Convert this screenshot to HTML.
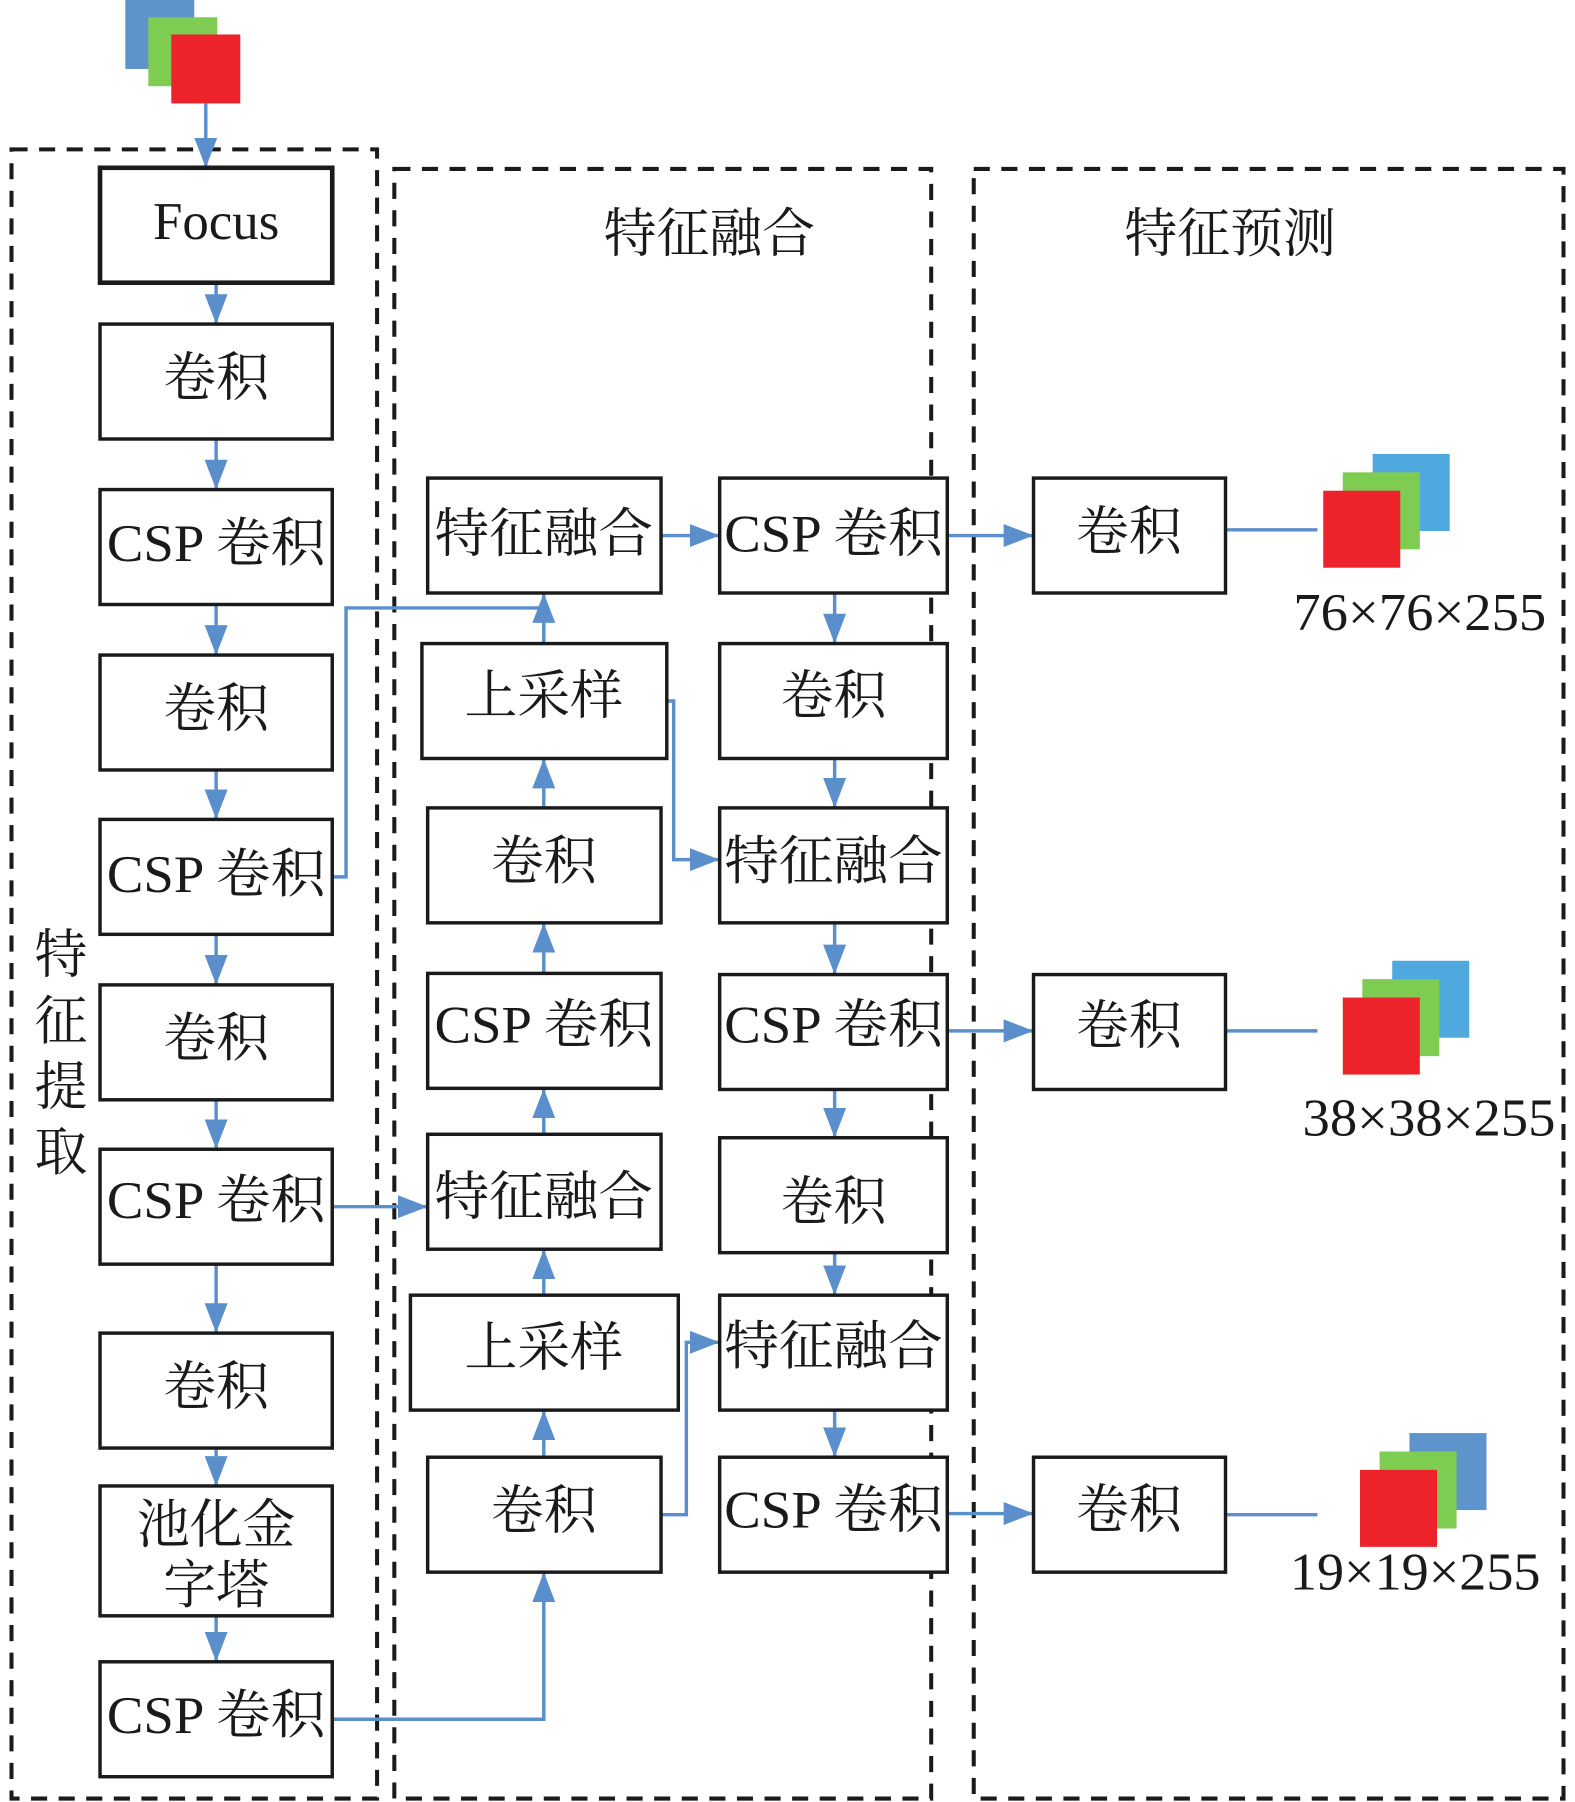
<!DOCTYPE html>
<html><head><meta charset="utf-8"><style>
html,body{margin:0;padding:0;background:#fff;}
svg{display:block;}
text{font-family:"Liberation Serif","Noto Serif CJK SC",serif;fill:#1a1a1a;}
</style></head><body>
<svg width="1575" height="1802" viewBox="0 0 1370 1568" preserveAspectRatio="none" xmlns="http://www.w3.org/2000/svg">
<defs>
<marker id="a" markerUnits="userSpaceOnUse" markerWidth="30" markerHeight="24" refX="26" refY="10" orient="auto">
<path d="M0,0 L26,10 L0,20 Z" fill="#5b8fcc"/>
</marker>
</defs>
<g fill="none" stroke="#1a1a1a" stroke-width="3.5" stroke-dasharray="14,10">
<rect x="10" y="130" width="318" height="1435"/>
<rect x="343" y="147" width="467" height="1418"/>
<rect x="847" y="147" width="513" height="1418"/>
</g>
<rect x="109" y="0" width="60" height="60" fill="#5e93cb"/>
<rect x="129" y="15" width="60" height="60" fill="#7fcc52"/>
<rect x="149" y="30" width="60" height="60" fill="#ec232a"/>
<rect x="1194" y="395" width="67" height="67" fill="#4fa9df"/>
<rect x="1168" y="411" width="67" height="67" fill="#7fcc52"/>
<rect x="1151" y="427" width="67" height="67" fill="#ec232a"/>
<rect x="1211" y="836" width="67" height="67" fill="#4fa9df"/>
<rect x="1185" y="852" width="67" height="67" fill="#7fcc52"/>
<rect x="1168" y="868" width="67" height="67" fill="#ec232a"/>
<rect x="1226" y="1247" width="67" height="67" fill="#5e93cb"/>
<rect x="1200" y="1263" width="67" height="67" fill="#7fcc52"/>
<rect x="1183" y="1279" width="67" height="67" fill="#ec232a"/>
<g fill="none" stroke="#5b8fcc" stroke-width="3">
<path d="M179,90 V146" marker-end="url(#a)"/>
<path d="M188,246 V282" marker-end="url(#a)"/>
<path d="M188,382 V426" marker-end="url(#a)"/>
<path d="M188,526 V570" marker-end="url(#a)"/>
<path d="M188,670 V713" marker-end="url(#a)"/>
<path d="M188,813 V857" marker-end="url(#a)"/>
<path d="M188,957 V1000" marker-end="url(#a)"/>
<path d="M188,1100 V1160" marker-end="url(#a)"/>
<path d="M188,1260 V1293" marker-end="url(#a)"/>
<path d="M188,1406 V1446" marker-end="url(#a)"/>
<path d="M289,763 H301 V529 H473 V516" />
<path d="M473,560 V516" marker-end="url(#a)"/>
<path d="M473,703 V660" marker-end="url(#a)"/>
<path d="M473,847 V803" marker-end="url(#a)"/>
<path d="M473,987 V947" marker-end="url(#a)"/>
<path d="M473,1127 V1087" marker-end="url(#a)"/>
<path d="M473,1268 V1227" marker-end="url(#a)"/>
<path d="M289,1496 H473 V1368" marker-end="url(#a)"/>
<path d="M289,1050 H372" marker-end="url(#a)"/>
<path d="M575,466 H626" marker-end="url(#a)"/>
<path d="M580,610 H586 V748 H626" marker-end="url(#a)"/>
<path d="M575,1318 H597 V1168 H626" marker-end="url(#a)"/>
<path d="M726,516 V560" marker-end="url(#a)"/>
<path d="M726,660 V703" marker-end="url(#a)"/>
<path d="M726,803 V848" marker-end="url(#a)"/>
<path d="M726,948 V990" marker-end="url(#a)"/>
<path d="M726,1090 V1127" marker-end="url(#a)"/>
<path d="M726,1227 V1268" marker-end="url(#a)"/>
<path d="M824,466 H899" marker-end="url(#a)"/>
<path d="M824,897 H899" marker-end="url(#a)"/>
<path d="M824,1317 H899" marker-end="url(#a)"/>
<path d="M1066,461 H1146"/>
<path d="M1066,897 H1146"/>
<path d="M1066,1318 H1146"/>
</g>
<g fill="#fff" stroke="#1a1a1a" stroke-width="3">
<rect x="87" y="146" width="202" height="100" stroke-width="4"/>
<rect x="87" y="282" width="202" height="100"/>
<rect x="87" y="426" width="202" height="100"/>
<rect x="87" y="570" width="202" height="100"/>
<rect x="87" y="713" width="202" height="100"/>
<rect x="87" y="857" width="202" height="100"/>
<rect x="87" y="1000" width="202" height="100"/>
<rect x="87" y="1160" width="202" height="100"/>
<rect x="87" y="1293" width="202" height="113"/>
<rect x="87" y="1446" width="202" height="100"/>
<rect x="372" y="416" width="203" height="100"/>
<rect x="367" y="560" width="213" height="100"/>
<rect x="372" y="703" width="203" height="100"/>
<rect x="372" y="847" width="203" height="100"/>
<rect x="372" y="987" width="203" height="100"/>
<rect x="357" y="1127" width="233" height="100"/>
<rect x="372" y="1268" width="203" height="100"/>
<rect x="626" y="416" width="198" height="100"/>
<rect x="626" y="560" width="198" height="100"/>
<rect x="626" y="703" width="198" height="100"/>
<rect x="626" y="848" width="198" height="100"/>
<rect x="626" y="990" width="198" height="100"/>
<rect x="626" y="1127" width="198" height="100"/>
<rect x="626" y="1268" width="198" height="100"/>
<rect x="899" y="416" width="167" height="100"/>
<rect x="899" y="848" width="167" height="100"/>
<rect x="899" y="1268" width="167" height="100"/>
</g>
<g font-size="46" text-anchor="middle">
<text x="188" y="208" font-size="46">Focus</text>
<text x="188" y="344">卷积</text>
<text x="188" y="488" textLength="190" lengthAdjust="spacingAndGlyphs">CSP 卷积</text>
<text x="188" y="632">卷积</text>
<text x="188" y="776" textLength="190" lengthAdjust="spacingAndGlyphs">CSP 卷积</text>
<text x="188" y="919">卷积</text>
<text x="188" y="1060" textLength="190" lengthAdjust="spacingAndGlyphs">CSP 卷积</text>
<text x="188" y="1222">卷积</text>
<text x="188" y="1342">池化金</text>
<text x="188" y="1395">字塔</text>
<text x="188" y="1508" textLength="190" lengthAdjust="spacingAndGlyphs">CSP 卷积</text>
<text x="473" y="480" textLength="190" lengthAdjust="spacingAndGlyphs">特征融合</text>
<text x="473" y="621">上采样</text>
<text x="473" y="765">卷积</text>
<text x="473" y="907" textLength="190" lengthAdjust="spacingAndGlyphs">CSP 卷积</text>
<text x="473" y="1057" textLength="190" lengthAdjust="spacingAndGlyphs">特征融合</text>
<text x="473" y="1188">上采样</text>
<text x="473" y="1330">卷积</text>
<text x="725" y="480" textLength="190" lengthAdjust="spacingAndGlyphs">CSP 卷积</text>
<text x="725" y="621">卷积</text>
<text x="725" y="765" textLength="190" lengthAdjust="spacingAndGlyphs">特征融合</text>
<text x="725" y="907" textLength="190" lengthAdjust="spacingAndGlyphs">CSP 卷积</text>
<text x="725" y="1061">卷积</text>
<text x="725" y="1187" textLength="190" lengthAdjust="spacingAndGlyphs">特征融合</text>
<text x="725" y="1329" textLength="190" lengthAdjust="spacingAndGlyphs">CSP 卷积</text>
<text x="982" y="478">卷积</text>
<text x="982" y="908">卷积</text>
<text x="982" y="1329">卷积</text>
<text x="617" y="219">特征融合</text>
<text x="1070" y="219">特征预测</text>
<text x="53" y="846">特</text>
<text x="53" y="904">征</text>
<text x="53" y="961">提</text>
<text x="53" y="1018">取</text>
<text x="1235" y="548" textLength="220" lengthAdjust="spacingAndGlyphs">76×76×255</text>
<text x="1243" y="988" textLength="220" lengthAdjust="spacingAndGlyphs">38×38×255</text>
<text x="1231" y="1383" textLength="218" lengthAdjust="spacingAndGlyphs">19×19×255</text>
</g>
</svg>
</body></html>
